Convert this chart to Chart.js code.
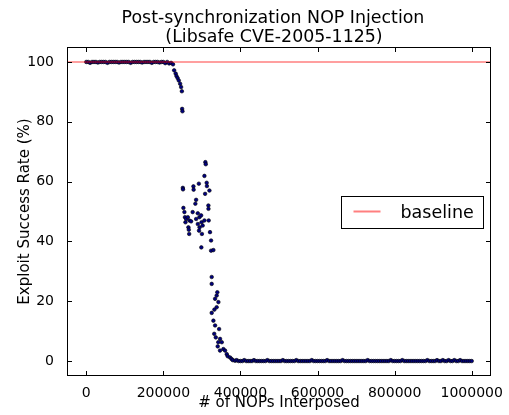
<!DOCTYPE html>
<html><head><meta charset="utf-8">
<script src="https://cdn.jsdelivr.net/npm/chart.js@4.4.0/dist/chart.umd.min.js"></script>
<style>html,body{margin:0;padding:0;background:#fff;}#wrap{width:509px;height:415px;}</style>
</head><body><div id="wrap"><canvas id="c" width="509" height="415"></canvas></div>
<script>
// ---- data ----
const titleLines = ["Post-synchronization NOP Injection", "(Libsafe CVE-2005-1125)"];
const xLabel = "# of NOPs Interposed";
const yLabel = "Exploit Success Rate (%)";
const legendLabel = "baseline";
const xTicks = [0, 200000, 400000, 600000, 800000, 1000000];
const yTicks = [0, 20, 40, 60, 80, 100];
const baselineValue = 100;

// plateau before the drop
const nopsHigh = [0,5000,10000,15000,20000,25000,30000,35000,40000,45000,
  50000,55000,60000,65000,70000,75000,80000,85000,90000,95000,
  100000,105000,110000,115000,120000,125000,130000,135000,140000,145000,
  150000,155000,160000,165000,170000,175000,180000,185000,190000,195000,
  200000,205000,210000,215000,220000,225000];
const rateHigh = [100,100,99.7,100,100,100,99.8,100,100,100,
  100,99.7,100,100,100,100,100,99.8,100,100,
  100,100,100,99.7,100,100,100,100,100,99.8,
  100,100,100,100,99.7,100,100,100,99.8,100,
  100,99.6,100,99.5,99.7,99.2];

// transition region
const nopsDrop = [228000,232000,234000,237000,240000,243500,246000,248000,248700,249500,
  250500,251000,252000,254600,256000,259000,257300,263400,265000,267600,
  266000,267000,272000,276000,278000,278500,285000,283000,289300,292000,
  285000,289400,293500,294000,292500,298000,299000,300000,298500,302000,
  306500,306500,308300,309000,310000,312400,313000,316800,317000,317600,
  319500,321000,323800,323800,329800,
  325400,325400,325400,329800,332400,334200,334200,332000,336000,338300,
  338300,340000,342800,344600,347100,342500,341000,347000,351500,355700,
  360100,364500,367000,373000,377000,380000,386000];
const rateDrop = [97.2,96.1,95.3,94.6,93.8,92.7,91.6,90.2,84.3,83.5,
  57.9,57.4,51.2,49.8,48.1,47.5,46.4,48.1,44.7,47.0,
  43.9,42.5,46.7,49.8,58.4,57.3,53.9,52.6,49.4,59.3,
  47.5,45.8,48.1,44.7,43.6,48.7,46.4,42.5,38.0,45.3,
  61.9,47.0,55.9,66.5,65.8,59.6,58.5,52.0,50.9,47.0,
  57.0,43.1,40.3,36.9,37.1,
  28.1,25.8,16.1,13.5,17.2,20.8,11.9,9.1,7.9,21.9,
  18.0,23.0,19.7,10.7,7.4,6.3,4.9,3.5,6.3,4.0,
  3.5,2.3,1.6,1.2,0.7,0.3,0.1];

// plateau after the drop
const nopsLow = [390000,395000,
  400000,405000,410000,415000,420000,425000,430000,435000,440000,445000,
  450000,455000,460000,465000,470000,475000,480000,485000,490000,495000,
  500000,505000,510000,515000,520000,525000,530000,535000,540000,545000,
  550000,555000,560000,565000,570000,575000,580000,585000,590000,595000,
  600000,605000,610000,615000,620000,625000,630000,635000,640000,645000,
  650000,655000,660000,665000,670000,675000,680000,685000,690000,695000,
  700000,705000,710000,715000,720000,725000,730000,735000,740000,745000,
  750000,755000,760000,765000,770000,775000,780000,785000,790000,795000,
  800000,805000,810000,815000,820000,825000,830000,835000,840000,845000,
  850000,855000,860000,865000,870000,875000,880000,885000,890000,895000,
  900000,905000,910000,915000,920000,925000,930000,935000,940000,945000,
  950000,955000,960000,965000,970000,975000,980000,985000,990000,995000,
  1000000];
const rateLow = [0.3,0,
  0,0,0.3,0,0,0,0,0.3,0,0,
  0,0,0,0,0.3,0,0,0,0,0,
  0,0,0.3,0,0,0,0,0,0,0.3,
  0,0,0,0,0,0,0,0.3,0,0,
  0,0,0,0,0,0.3,0,0,0,0,
  0,0,0,0.3,0,0,0,0,0,0,
  0,0,0,0,0,0,0.3,0,0,0,
  0,0,0,0,0,0,0,0,0.3,0,
  0,0,0,0,0.3,0,0,0,0,0,
  0,0,0,0,0,0,0,0.3,0,0,
  0,0,0.3,0,0,0.3,0,0,0.3,0,
  0,0.3,0,0,0.3,0,0,0,0,0,
  0];

// ---- build chart ----
const FONT = "'DejaVu Sans', 'Liberation Sans', sans-serif";
function toPts(xs, ys){ return xs.map((x,i)=>({x:x, y:ys[i]})); }
const points = toPts(nopsHigh, rateHigh).concat(toPts(nopsDrop, rateDrop), toPts(nopsLow, rateLow));

const decor = {
  id: 'decor',
  afterDatasetsDraw(chart){
    const ctx = chart.ctx, a = chart.chartArea;
    const xs = chart.scales.x, ys = chart.scales.y;
    ctx.save();
    ctx.strokeStyle = '#000'; ctx.lineWidth = 1;
    // frame
    ctx.strokeRect(Math.round(a.left)+0.5, Math.round(a.top)+0.5, Math.round(a.right-a.left)-1, Math.round(a.bottom-a.top)-1);
    // inward ticks on all four sides
    const L = 5;
    ctx.beginPath();
    xTicks.forEach(v=>{
      const p = Math.round(xs.getPixelForValue(v))+0.5;
      ctx.moveTo(p, a.bottom); ctx.lineTo(p, a.bottom-L);
      ctx.moveTo(p, a.top); ctx.lineTo(p, a.top+L);
    });
    yTicks.forEach(v=>{
      const p = Math.round(ys.getPixelForValue(v))+0.5;
      ctx.moveTo(a.left, p); ctx.lineTo(a.left+L, p);
      ctx.moveTo(a.right, p); ctx.lineTo(a.right-L, p);
    });
    ctx.stroke();
    // legend (center right)
    const bw = 142, bh = 32;
    const bx = Math.round(a.right - 8 - bw) + 0.5;
    const by = Math.round((a.top + a.bottom)/2 - bh/2) + 0.5;
    ctx.fillStyle = '#fff';
    ctx.fillRect(bx, by, bw, bh);
    ctx.strokeStyle = '#000';
    ctx.strokeRect(bx, by, bw, bh);
    ctx.strokeStyle = 'rgba(255,0,0,0.5)'; ctx.lineWidth = 2;
    ctx.beginPath(); ctx.moveTo(bx+12, by+15); ctx.lineTo(bx+39, by+15); ctx.stroke();
    ctx.fillStyle = '#000';
    ctx.font = '17.5px ' + FONT;
    ctx.textAlign = 'left'; ctx.textBaseline = 'alphabetic';
    ctx.fillText(legendLabel, bx+59, by+21);
    // title
    ctx.font = '17.4px ' + FONT;
    ctx.textAlign = 'center';
    ctx.fillText(titleLines[0], 273, 23);
    ctx.fillText(titleLines[1], 274, 42);
    ctx.restore();
  }
};

new Chart(document.getElementById('c'), {
  type: 'scatter',
  data: {
    datasets: [
      {
        label: legendLabel,
        data: [{x:-50000, y:baselineValue}, {x:1050000, y:baselineValue}],
        showLine: true,
        borderColor: 'rgba(255,0,0,0.5)',
        borderWidth: 1.5,
        pointRadius: 0,
        pointHoverRadius: 0
      },
      {
        label: 'runs',
        data: points,
        pointRadius: 1.8,
        pointHoverRadius: 1.8,
        pointBackgroundColor: '#000080',
        pointBorderColor: '#000',
        pointBorderWidth: 0.6
      }
    ]
  },
  options: {
    responsive: false,
    animation: false,
    devicePixelRatio: 1,
    layout: { padding: { top: 47, right: 18, bottom: 0, left: 0 } },
    plugins: { legend: { display: false }, title: { display: false }, tooltip: { enabled: false } },
    scales: {
      x: {
        type: 'linear', position: 'bottom', min: -50000, max: 1050000,
        grid: { display: false }, border: { display: false },
        afterBuildTicks: s => { s.ticks = xTicks.map(v=>({value:v})); },
        afterFit: s => { s.height = 39; },
        ticks: { color: '#000', font: { family: FONT, size: 14 }, padding: 1, maxRotation: 0, autoSkip: false,
                 callback: v => String(v) },
        title: { display: true, text: xLabel, color: '#000', font: { family: FONT, size: 15 }, padding: { top: 0, bottom: 3 } }
      },
      y: {
        type: 'linear', position: 'left', min: -5, max: 105,
        grid: { display: false }, border: { display: false },
        afterBuildTicks: s => { s.ticks = yTicks.map(v=>({value:v})); },
        afterFit: s => { s.width = 67; },
        ticks: { color: '#000', font: { family: FONT, size: 14 }, padding: 5, autoSkip: false,
                 callback: v => String(v) },
        title: { display: true, text: yLabel, color: '#000', font: { family: FONT, size: 15 }, padding: { top: 16, bottom: 0 } }
      }
    }
  },
  plugins: [decor]
});
</script>
</body></html>
